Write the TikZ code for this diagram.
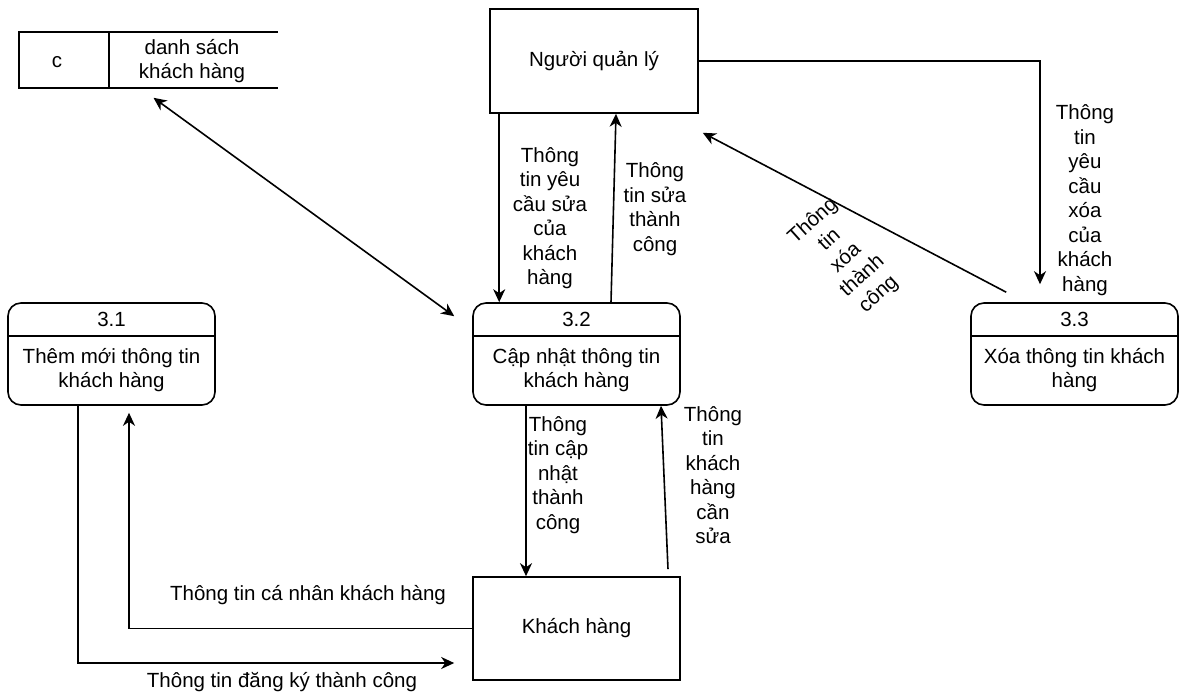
\documentclass[tikz,border=0pt]{standalone}
\usepackage{fontspec}
\setmainfont{Liberation Sans}
\usetikzlibrary{arrows.meta}
% process: name, centre, number, title
\newcommand\process[4]{%
  \node[procbox] (#1) at (#2) {};
  \draw ([yshift=-34pt]#1.north west) -- ([yshift=-34pt]#1.north east);
  \node[lbl] (#1num) at ([yshift=-17pt]#1.north) {#3};
  \node[lbl] (#1txt) at ([yshift=-68pt]#1.north) {#4};
}

\begin{document}
\begin{tikzpicture}[x=1pt,y=-1pt,line width=1.6pt,
    >={Stealth[length=13pt,width=12pt,inset=4pt]},
    font=\fontsize{20.5}{24.5}\selectfont,
    lbl/.style={align=center,inner sep=0pt},
    entbox/.style={draw,minimum width=207pt,minimum height=103pt,inner sep=0pt},
    procbox/.style={draw,rounded corners=13pt,minimum width=207pt,minimum height=102pt,inner sep=0pt}]
  \useasboundingbox (0,0) rectangle (1179,695);

  \node[entbox,minimum width=208pt,minimum height=104pt] (mgr) at (594,61) {Người quản lý};
  \node[entbox] (kh) at (576.5,628.5) {Khách hàng};

  \process{p31}{111.5,354}{3.1}{Thêm mới thông tin\\khách hàng}
  \process{p32}{576.5,354}{3.2}{Cập nhật thông tin\\khách hàng}
  \process{p33}{1074.5,354}{3.3}{Xóa thông tin khách\\hàng}

  % data store
  \node[minimum width=257pt,minimum height=54pt,inner sep=0pt] (store) at (148.5,60) {};
  \draw (store.north east) -- (store.north west) -- (store.south west) -- (store.south east);
  \draw ([xshift=90pt]store.north west) -- ([xshift=90pt]store.south west);
  \node[lbl] (storeid) at (57,62) {c};
  \node[lbl] (storename) at (192,61) {danh sách\\khách hàng};

  % flows
  \draw[<->] ([xshift=5pt,yshift=-10pt]store.south) -- ([xshift=-18pt,yshift=-14pt]p32.north west);
  \draw[->] ([xshift=10pt]mgr.south west) -- ([xshift=27pt]p32.north west);
  \draw[->] ([xshift=34.5pt]p32.north) -- ([xshift=22pt]mgr.south);
  \draw[->] (mgr.east) -| ([xshift=-34.5pt,yshift=18pt]p33.north);
  \draw[->] ([xshift=36pt,yshift=10pt]p33.north west) -- ([xshift=4pt,yshift=-19pt]mgr.south east);
  \draw[->] ([xshift=-50.5pt]p32.south) -- ([xshift=-50.5pt]kh.north);
  \draw[->] ([xshift=91.5pt,yshift=7pt]kh.north) -- ([xshift=84.5pt]p32.south);
  \draw[->] ([xshift=-33.5pt]p31.south) |- ([xshift=-18pt,yshift=-34.5pt]kh.west);
  \draw[->] (kh.west) -| ([xshift=17.5pt,yshift=-7pt]p31.south);

  % flow labels
  \node[lbl] (lblyc) at (550,218) {Thông\\tin yêu\\cầu sửa\\của\\khách\\hàng};
  \node[lbl] (lblsua) at (655,209) {Thông\\tin sửa\\thành\\công};
  \node[lbl] (lblxoa) at (1085,200) {Thông\\tin\\yêu\\cầu\\xóa\\của\\khách\\hàng};
  \node[lbl,rotate=42] (lblxtc) at (846,258) {Thông\\tin\\xóa\\thành\\công};
  \node[lbl] (lblcn) at (558,475) {Thông\\tin cập\\nhật\\thành\\công};
  \node[lbl] (lblkh) at (713,475) {Thông\\tin\\khách\\hàng\\cần\\sửa};
  \node[lbl] (lblcanhan) at (308,595) {Thông tin cá nhân khách hàng};
  \node[lbl] (lbldk) at (282,682) {Thông tin đăng ký thành công};
\end{tikzpicture}
\end{document}
